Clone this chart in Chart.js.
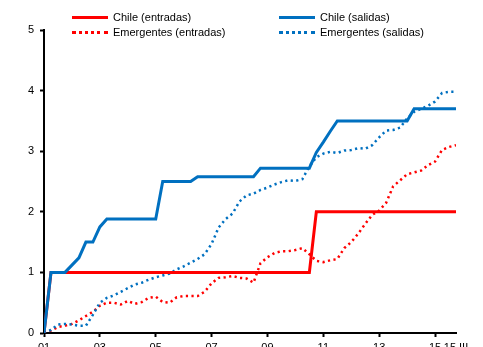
<!DOCTYPE html>
<html>
<head>
<meta charset="utf-8">
<script src="https://cdn.jsdelivr.net/npm/chart.js@4/dist/chart.umd.min.js"></script>
<style>
  html, body { margin: 0; padding: 0; background: #fff; overflow: hidden; }
  #wrap { position: relative; width: 483px; height: 360px; }
  .unit { position: absolute; left: 18px; top: -12px; font: 11px "Liberation Sans", Arial, sans-serif; color: #000; }
  .leg { position: absolute; font: 11px "Liberation Sans", Arial, sans-serif; color: #000; white-space: nowrap; line-height: 13px; }
  .leg span.s { display: inline-block; width: 36px; vertical-align: middle; margin-right: 5px; position: relative; top: -1px; }
</style>
</head>
<body>
<div id="wrap">
  <canvas id="chart" width="483" height="360"></canvas>
  <div class="unit">(porcentaje)</div>
  <div class="leg" style="left:72px; top:11px;"><span class="s" style="border-top:3px solid #ff0000;"></span>Chile (entradas)</div>
  <div class="leg" style="left:279px; top:11px;"><span class="s" style="border-top:3px solid #0070c0;"></span>Chile (salidas)</div>
  <div class="leg" style="left:72px; top:26px;"><span class="s" style="border-top:3px dotted #ff0000;"></span>Emergentes (entradas)</div>
  <div class="leg" style="left:279px; top:26px;"><span class="s" style="border-top:3px dotted #0070c0;"></span>Emergentes (salidas)</div>
</div>
<script>
// quarterly observations, 2001.I to 2015.IV
const startYear = 2001;
const tickYears = [2001, 2003, 2005, 2007, 2009, 2011, 2013, 2015, 2015.75];
const tickLabels = ['01', '03', '05', '07', '09', '11', '13', '15', '15.III'];

const chileEntradas = [
  0, 1, 1, 1, 1, 1, 1, 1, 1, 1,
  1, 1, 1, 1, 1, 1, 1, 1, 1, 1,
  1, 1, 1, 1, 1, 1, 1, 1, 1, 1,
  1, 1, 1, 1, 1, 1, 1, 1, 1, 2,
  2, 2, 2, 2, 2, 2, 2, 2, 2, 2,
  2, 2, 2, 2, 2, 2, 2, 2, 2, 2
];
const chileSalidas = [
  0, 1, 1, 1, 1.12, 1.24, 1.5, 1.5, 1.75, 1.88,
  1.88, 1.88, 1.88, 1.88, 1.88, 1.88, 1.88, 2.5, 2.5, 2.5,
  2.5, 2.5, 2.58, 2.58, 2.58, 2.58, 2.58, 2.58, 2.58, 2.58,
  2.58, 2.72, 2.72, 2.72, 2.72, 2.72, 2.72, 2.72, 2.72, 2.98,
  3.15, 3.33, 3.5, 3.5, 3.5, 3.5, 3.5, 3.5, 3.5, 3.5,
  3.5, 3.5, 3.5, 3.7, 3.7, 3.7, 3.7, 3.7, 3.7, 3.7
];
const emergEntradas = [
  0, 0.04, 0.1, 0.12, 0.15, 0.21, 0.28, 0.35, 0.45, 0.5,
  0.5, 0.47, 0.53, 0.48, 0.51, 0.58, 0.6, 0.51, 0.5, 0.59,
  0.61, 0.61, 0.61, 0.68, 0.82, 0.91, 0.92, 0.94, 0.91, 0.9,
  0.83, 1.15, 1.25, 1.32, 1.35, 1.35, 1.37, 1.4, 1.3, 1.19,
  1.17, 1.2, 1.22, 1.4, 1.5, 1.64, 1.8, 1.95, 2.02, 2.15,
  2.42, 2.52, 2.62, 2.65, 2.68, 2.77, 2.83, 3.02, 3.07, 3.1
];
const emergSalidas = [
  0, 0.05, 0.14, 0.15, 0.14, 0.12, 0.12, 0.3, 0.5, 0.58,
  0.62, 0.68, 0.74, 0.8, 0.83, 0.88, 0.92, 0.95, 0.98, 1.05,
  1.1, 1.16, 1.22, 1.3, 1.47, 1.74, 1.88, 1.97, 2.17, 2.27,
  2.3, 2.36, 2.4, 2.45, 2.49, 2.52, 2.51, 2.54, 2.75, 2.9,
  2.96, 2.99, 2.97, 3.01, 3.02, 3.05, 3.04, 3.1, 3.23, 3.34,
  3.35, 3.39, 3.54, 3.65, 3.7, 3.75, 3.82, 3.96, 3.98, 3.98
];

// build x/y pairs for the linear x axis
function toPoints(values) {
    return values.map((v, i) => ({ x: startYear + i * 0.25, y: v }));
}

const RED = '#ff0000';
const BLUE = '#0070c0';
const FONT = { family: '"Liberation Sans", Arial, sans-serif', size: 11 };

const ctx = document.getElementById('chart').getContext('2d');
const chart = new Chart(ctx, {
    type: 'line',
    data: {
        datasets: [
            { label: 'Chile (salidas)', data: toPoints(chileSalidas), borderColor: BLUE, borderWidth: 3 },
            { label: 'Chile (entradas)', data: toPoints(chileEntradas), borderColor: RED, borderWidth: 3 },
            { label: 'Emergentes (salidas)', data: toPoints(emergSalidas), borderColor: BLUE, borderWidth: 2.5, borderDash: [2.2, 3.4] },
            { label: 'Emergentes (entradas)', data: toPoints(emergEntradas), borderColor: RED, borderWidth: 2.5, borderDash: [2.2, 3.4] }
        ]
    },
    options: {
        animation: false,
        responsive: false,
        elements: { point: { radius: 0 }, line: { tension: 0, borderCapStyle: 'butt' } },
        layout: { padding: { top: 30, right: 27, left: 0, bottom: 0 } },
        plugins: { legend: { display: false }, tooltip: { enabled: false } },
        scales: {
            x: {
                type: 'linear',
                min: 2001,
                max: 2015.75,
                afterBuildTicks: axis => { axis.ticks = tickYears.map(v => ({ value: v })); },
                afterFit: axis => { axis.height = 27; },
                border: { color: '#000', width: 2 },
                grid: {
                    drawOnChartArea: false,
                    tickLength: 4,
                    tickWidth: 2,
                    tickColor: c => (c.index === tickYears.length - 1 ? 'rgba(0,0,0,0)' : '#000')
                },
                ticks: {
                    color: '#000',
                    font: FONT,
                    padding: 4,
                    maxRotation: 0,
                    autoSkip: false,
                    callback: (v, i) => tickLabels[i]
                }
            },
            y: {
                min: 0,
                max: 5,
                afterFit: axis => { axis.width = 44; },
                border: { color: '#000', width: 2 },
                grid: { drawOnChartArea: false, tickLength: 4, tickWidth: 2, tickColor: '#000' },
                ticks: { stepSize: 1, color: '#000', font: FONT, padding: 6 }
            }
        }
    }
});
</script>
</body>
</html>
